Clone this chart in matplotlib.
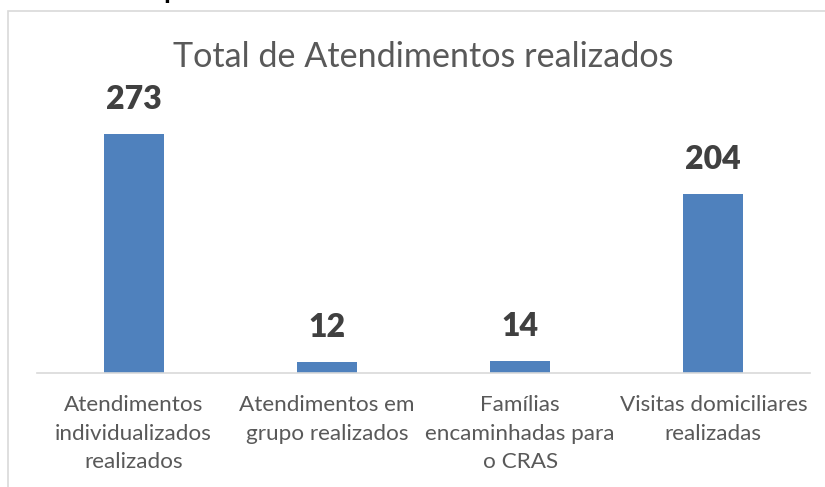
import matplotlib
matplotlib.use("Agg")
import matplotlib.pyplot as plt
from matplotlib.patches import Rectangle

categories = ["Atendimentos\nindividualizados\nrealizados",
              "Atendimentos em\ngrupo realizados",
              "Famílias\nencaminhadas para\no CRAS",
              "Visitas domiciliares\nrealizadas"]
values = [273, 12, 14, 204]
title = "Total de Atendimentos realizados"

plt.rcParams['font.family'] = ['Lato', 'DejaVu Sans']

fig = plt.figure(figsize=(8.25, 4.87), dpi=100)
fig.patch.set_facecolor('white')

# moldura do gráfico (cortada à direita e em baixo)
fig.patches.append(Rectangle((8 / 825, -0.05), 1.0, 1 - 11 / 487 + 0.05,
                             transform=fig.transFigure, fill=False,
                             edgecolor='#D9D9D9', linewidth=1.2))
# resto de texto do documento acima do gráfico
fig.text(171 / 825, 1 + 2 / 487, "p", fontsize=20, fontweight='bold',
         color='black', ha='center', va='baseline')

ax = fig.add_axes([37 / 825, 114 / 487, 773 / 825, 263 / 487])
x = range(len(values))
bars = ax.bar(x, values, width=0.31, color='#4F81BD')
ax.set_xlim(-0.5, len(values) - 0.5)
ax.set_ylim(0, 300)

for xi, v in zip(x, values):
    ax.annotate(str(v), (xi, v), xytext=(0, 18), textcoords='offset points',
                ha='center', va='baseline', fontsize=23, fontweight='heavy',
                color='#404040')

ax.set_xticks(list(x))
ax.set_xticklabels(categories, fontsize=16.2, color='#595959', linespacing=1.52)
ax.tick_params(axis='x', length=0, pad=16)
ax.set_yticks([])
for s in ['left', 'right', 'top']:
    ax.spines[s].set_visible(False)
ax.spines['bottom'].set_color('#D9D9D9')
ax.spines['bottom'].set_linewidth(1.2)

fig.text(423 / 825, 1 - 57 / 487, title, fontsize=24.6, color='#595959',
         ha='center', va='center')

fig.savefig("out.png", dpi=100, facecolor='white')
